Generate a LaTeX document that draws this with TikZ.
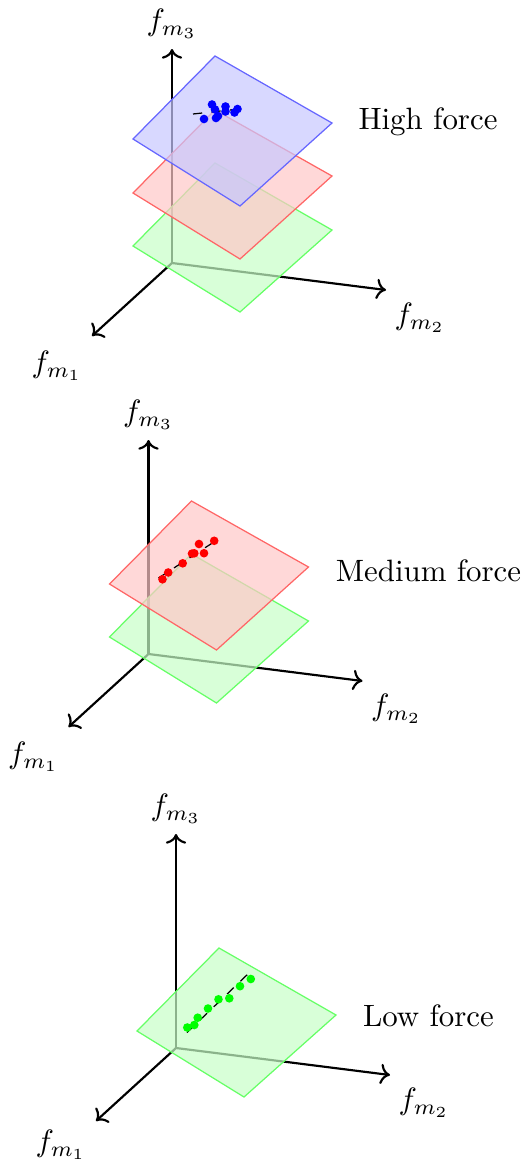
\documentclass[tikz,border=0pt]{standalone}
\usetikzlibrary{arrows.meta}

\begin{document}
\begin{tikzpicture}[
  x=0.324pt, y=-0.324pt,
  axis/.style={draw, ->, line width=0.7pt},
  lbl/.style={inner sep=1pt},
  plane/.style={line width=0.4pt, fill opacity=0.7},
  fitline/.style={draw, dashed, line width=0.4pt},
  force/.style={inner sep=1pt}
]
\useasboundingbox (0,0) rectangle (525,1166);

% ---- high force
\coordinate (o1) at (172,263);
\coordinate (z1) at (172,49);
\coordinate (y1) at (386,290);
\coordinate (x1) at (92,336);
\draw[axis] (o1) -- (z1);
\draw[axis] (o1) -- (y1);
\draw[axis] (o1) -- (x1);
\node[lbl] (fz1) at (172,24) {$f_{m_3}$};
\node[lbl] (fy1) at (420,318) {$f_{m_2}$};
\node[lbl] (fx1) at (57,366) {$f_{m_1}$};

\filldraw[plane, draw=green!60, fill=green!22] (133,246) -- (215,163) -- (332,230) -- (240,312) -- cycle;
\filldraw[plane, draw=red!60, fill=red!22] (133,193) -- (215,110) -- (332,176) -- (240,259) -- cycle;
\filldraw[plane, draw=blue!60, fill=blue!22] (133,139) -- (215,56) -- (332,123) -- (240,206) -- cycle;

\coordinate (h0) at (193,114);
\coordinate (h1) at (248,108);
\draw[fitline] (h0) -- (h1);
\foreach \p in {(204,119),(212,104.5),(215,109.5),(216,118),(218,116),
                (225.5,106.5),(225.5,111.5),(234.5,112.5),(237.5,109)}
  \fill[blue] \p circle[radius=1.4pt];

\node[force] (high) at (428,122) {High force};

% ---- medium force
\coordinate (o2) at (148.5,654);
\coordinate (z2) at (148.5,440);
\coordinate (y2) at (362.5,681);
\coordinate (x2) at (68.5,727);
\draw[axis] (o2) -- (z2);
\draw[axis] (o2) -- (y2);
\draw[axis] (o2) -- (x2);
\node[lbl] (fz2) at (148.5,415) {$f_{m_3}$};
\node[lbl] (fy2) at (396.5,709) {$f_{m_2}$};
\node[lbl] (fx2) at (33.5,757) {$f_{m_1}$};

\filldraw[plane, draw=green!60, fill=green!22] (109.5,637) -- (191.5,554) -- (308.5,621) -- (216.5,703) -- cycle;
\filldraw[plane, draw=red!60, fill=red!22] (109.5,584) -- (191.5,501) -- (308.5,567) -- (216.5,650) -- cycle;

\coordinate (m0) at (158.5,578);
\coordinate (m1) at (218.5,539);
\draw[fitline] (m0) -- (m1);
\foreach \p in {(162.5,579.3),(168.2,572.5),(182.7,563.3),(192,553.6),(194.3,553.3),
                (199,544),(204,553.2),(214.2,540.8)}
  \fill[red] \p circle[radius=1.4pt];

\node[force] (medium) at (428.5,571) {Medium force};

% ---- low force
\coordinate (o3) at (176,1048);
\coordinate (z3) at (176,834);
\coordinate (y3) at (390,1075);
\coordinate (x3) at (96,1121);
\draw[axis] (o3) -- (z3);
\draw[axis] (o3) -- (y3);
\draw[axis] (o3) -- (x3);
\node[lbl] (fz3) at (176,809) {$f_{m_3}$};
\node[lbl] (fy3) at (424,1103) {$f_{m_2}$};
\node[lbl] (fx3) at (61,1145) {$f_{m_1}$};

\filldraw[plane, draw=green!60, fill=green!22] (137,1031) -- (219,948) -- (336,1015) -- (244,1097) -- cycle;

\coordinate (l0) at (187,1032.5);
\coordinate (l1) at (249.5,972.5);
\draw[fitline] (l0) -- (l1);
\foreach \p in {(187.3,1027.5),(194.3,1025),(197.7,1017.7),(208,1008.5),(218.5,999.3),
                (229.3,998.3),(240,986.2),(250.8,979)}
  \fill[green] \p circle[radius=1.4pt];

\node[force] (low) at (428.5,1016) {Low force};

\end{tikzpicture}
\end{document}
